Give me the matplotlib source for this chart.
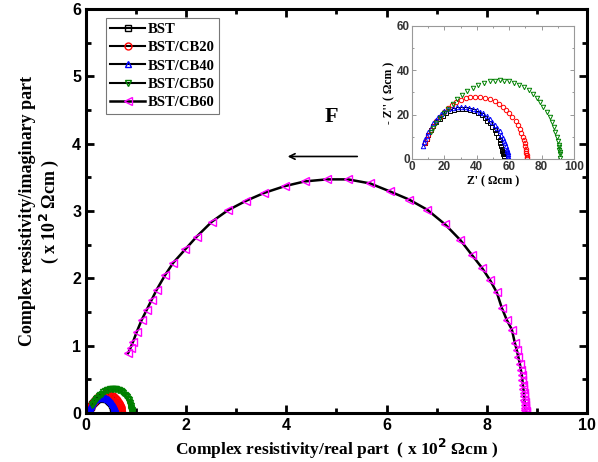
import numpy as np
import matplotlib.pyplot as plt
from matplotlib.ticker import MultipleLocator

# Inset data in Ohm cm (main plot uses x 10^2 Ohm cm)
bst_x = [8, 9, 10, 11.5, 13, 15, 17, 19, 21, 23.5, 26, 28.5, 31, 33.5, 36, 38.5, 41, 43, 45, 46.5, 48, 49.5, 51, 52, 53, 54, 54.5, 55, 55.5, 55.8, 56, 56.3, 56.5, 56.7, 56.9, 57]
bst_y = [7, 9, 11, 13, 15, 16.5, 18, 19.3, 20.5, 21.4, 22, 22.4, 22.5, 22.4, 22, 21.4, 20.5, 19.6, 18.5, 17.3, 16, 14.5, 13, 11.5, 10, 8.5, 7, 5.8, 4.5, 3.7, 3, 2.4, 2, 1.4, 0.8, 0.3]
cb20_x = [8, 9, 10, 11.5, 13, 15, 17, 19.5, 22, 24.5, 27, 30, 33, 36, 39, 42, 45, 48, 51, 53.5, 56, 58, 60, 62, 64, 65.3, 66.5, 67.5, 68.5, 69, 69.5, 70, 70.2, 70.4, 70.6, 70.7, 70.8, 71]
cb20_y = [7, 9, 11, 13, 15, 17, 19, 21, 23, 24.3, 25.5, 26.6, 27.5, 27.9, 28, 27.9, 27.5, 26.9, 26, 24.8, 23.5, 22, 20.5, 18.8, 17, 15.3, 13.5, 11.8, 10, 8.5, 7, 5.7, 4.5, 3.5, 2.5, 1.7, 1, 0.3]
cb40_x = [7, 7.5, 8, 9, 10, 11.5, 13, 14.5, 16, 18, 20, 22.5, 25, 27.5, 30, 32.5, 35, 37.5, 40, 42, 44, 46, 48, 49.5, 51, 52.5, 54, 55, 56, 56.8, 57.5, 58, 58.5, 58.8, 59, 59.2, 59.3, 59.5]
cb40_y = [6, 7.5, 9, 10.5, 12, 14, 16, 17.5, 19, 20.3, 21.5, 22.3, 23, 23.3, 23.5, 23.3, 23, 22.6, 22, 21.3, 20.5, 19.3, 18, 16.8, 15.5, 14, 12.5, 11, 9.5, 8.2, 7, 5.7, 4.5, 3.7, 3, 2.2, 1.5, 0.5]
cb50_x = [12, 13, 15, 17, 19.5, 22, 25, 28, 31, 34, 37.5, 41, 44.5, 48, 51, 54, 57, 60, 63, 66, 69, 72, 74.5, 77, 79, 81, 83, 85, 86.3, 87.5, 88.5, 89.5, 90, 90.5, 90.8, 91, 91.2, 91.3, 91.5]
cb50_y = [12, 14, 16.3, 18.5, 20.5, 22.5, 24.8, 27, 28.8, 30.5, 32, 33.5, 34.3, 35, 35.3, 35.5, 35.3, 35, 34.3, 33.5, 32.3, 31, 29.3, 27.5, 25.5, 23.5, 21.3, 19, 16.8, 14.5, 12.3, 10, 8.2, 6.5, 5.2, 4, 3, 2, 0.5]

# BST/CB60 in x 10^2 Ohm cm
cb60_x = [0.84, 0.89, 0.94, 1.01, 1.11, 1.21, 1.31, 1.41, 1.58, 1.74, 1.98, 2.21, 2.51, 2.83, 3.19, 3.56, 3.97,
          4.37, 4.81, 5.23, 5.67, 6.07, 6.45, 6.81, 7.17, 7.47, 7.70, 7.90, 8.06, 8.20, 8.30, 8.40, 8.50, 8.56,
          8.60, 8.63, 8.66, 8.68, 8.70, 8.71, 8.72, 8.73, 8.74, 8.745, 8.75, 8.755, 8.76, 8.765, 8.77, 8.775, 8.78]
cb60_y = [0.89, 0.97, 1.06, 1.20, 1.38, 1.53, 1.68, 1.83, 2.05, 2.23, 2.43, 2.62, 2.84, 3.01, 3.15, 3.27, 3.37,
          3.44, 3.47, 3.47, 3.41, 3.29, 3.17, 3.02, 2.80, 2.57, 2.35, 2.16, 1.98, 1.79, 1.56, 1.38, 1.24, 1.04,
          0.93, 0.83, 0.73, 0.64, 0.56, 0.49, 0.42, 0.36, 0.30, 0.25, 0.20, 0.16, 0.12, 0.08, 0.05, 0.03, 0.01]

series = [
    ('BST', bst_x, bst_y, 's', 'black'),
    ('BST/CB20', cb20_x, cb20_y, 'o', 'red'),
    ('BST/CB40', cb40_x, cb40_y, '^', 'blue'),
    ('BST/CB50', cb50_x, cb50_y, 'v', 'green'),
]

serif = 'Liberation Serif'
sans = 'Liberation Sans'

fig = plt.figure(figsize=(5.98, 4.62), dpi=100)
ax = fig.add_axes([0.1438, 0.106, 0.8378, 0.8745])

for name, x, y, m, c in series:
    ax.plot(np.array(x) / 100, np.array(y) / 100, '-', color='black', lw=1.5,
            marker=m, mfc='none', mec=c, ms=5, mew=1, label=name)
ax.plot(cb60_x, cb60_y, '-', color='black', lw=1.8, marker='<', mfc='none',
        mec='magenta', ms=5.5, mew=1, label='BST/CB60')

ax.set_xlim(0, 10)
ax.set_ylim(0, 6)
ax.xaxis.set_major_locator(MultipleLocator(2))
ax.xaxis.set_minor_locator(MultipleLocator(1))
ax.yaxis.set_major_locator(MultipleLocator(1))
ax.yaxis.set_minor_locator(MultipleLocator(0.5))
ax.tick_params(which='both', direction='in', top=True, right=True, width=2)
ax.tick_params(which='major', length=6)
ax.tick_params(which='minor', length=3.5)
ax.tick_params(labeltop=False, labelright=False)
for s in ax.spines.values():
    s.set_linewidth(2.2)
for lab in ax.get_xticklabels() + ax.get_yticklabels():
    lab.set_fontfamily(sans)
    lab.set_fontweight('bold')
    lab.set_fontsize(11.5)

ax.set_ylabel('Complex resistivity/imaginary part\n( x 10$^\\mathbf{2}$ \u03a9cm )',
              fontfamily=serif, fontweight='bold', fontsize=13, linespacing=1.1, labelpad=8)
ax.set_xlabel('Complex resistivity/real part  ( x 10$^\\mathbf{2}$ \u03a9cm )',
              fontfamily=serif, fontweight='bold', fontsize=12.5, labelpad=3)

leg = ax.legend(loc='upper left', bbox_to_anchor=(0.025, 0.995), frameon=True, fancybox=False,
                prop={'family': serif, 'weight': 'bold', 'size': 10.5},
                handlelength=2.4, handletextpad=0.2, borderpad=0.3, labelspacing=0.35)
leg.get_frame().set_edgecolor('#555555')
leg.get_frame().set_linewidth(0.8)

ax.annotate('', xy=(3.97, 3.81), xytext=(5.47, 3.81),
            arrowprops=dict(arrowstyle='->', color='black', lw=1.2))
ax.text(4.9, 4.4, 'F', fontfamily=serif, fontweight='bold', fontsize=16, ha='center', va='center')

# inset
ins = fig.add_axes([0.689, 0.656, 0.271, 0.288])
for name, x, y, m, c in series:
    ins.plot(x, y, linestyle='none', marker=m, mfc='none', mec=c, ms=3.2, mew=0.7)
ins.set_xlim(0, 100)
ins.set_ylim(0, 60)
ins.xaxis.set_major_locator(MultipleLocator(20))
ins.xaxis.set_minor_locator(MultipleLocator(10))
ins.yaxis.set_major_locator(MultipleLocator(20))
ins.yaxis.set_minor_locator(MultipleLocator(10))
ins.tick_params(which='both', direction='in', top=True, right=True, width=0.6, colors='#888888',
                labelcolor='#333333', pad=1.5)
ins.tick_params(which='major', length=3)
ins.tick_params(which='minor', length=1.5)
for s in ins.spines.values():
    s.set_linewidth(0.8)
    s.set_color('#999999')
for lab in ins.get_xticklabels() + ins.get_yticklabels():
    lab.set_fontfamily(sans)
    lab.set_fontweight('bold')
    lab.set_fontsize(8.5)
ins.set_xlabel("Z' ( \u03a9cm )", fontfamily=serif, fontweight='bold', fontsize=8.5, labelpad=2)
ins.set_ylabel("- Z'' ( \u03a9cm )", fontfamily=serif, fontweight='bold', fontsize=8.5, labelpad=1)

fig.savefig('out.png', dpi=100)
